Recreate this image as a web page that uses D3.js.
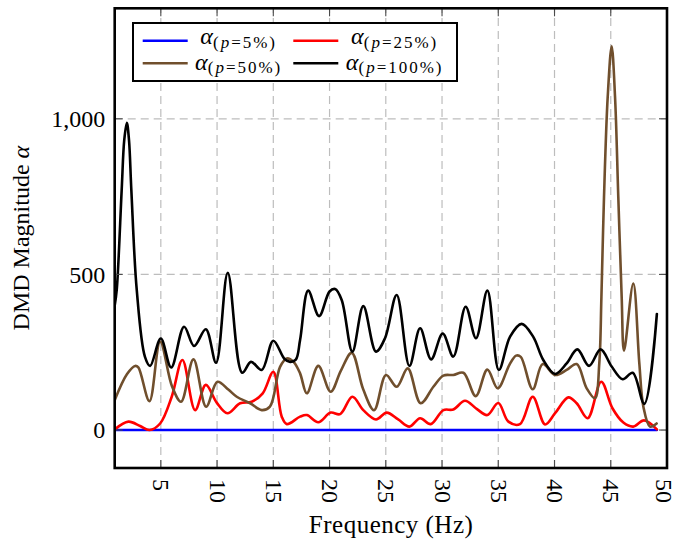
<!DOCTYPE html>
<html>
<head>
<meta charset="utf-8">
<script src="https://cdn.jsdelivr.net/npm/d3@7"></script>
<style>
  body { margin: 0; background: #fff; }
  svg { display: block; }
</style>
</head>
<body>
<svg id="chart" width="677" height="541"></svg>
<script>
// Axis ticks
const xTicks = [5, 10, 15, 20, 25, 30, 35, 40, 45, 50];
const yTicks = [0, 500, 1000];

// Legend entries (sampling percentage p)
const seriesLabels = ["5%", "25%", "50%", "100%"];

// DMD magnitude spectra: frequency (Hz) and magnitude per sampling level
const freq5 = [0.9, 5, 10, 15, 20, 25, 30, 35, 40, 45, 49.1];
const mag5  = [0, 0, 0, 0, 0, 0, 0, 0, 0, 0, 0];

const freq25 = [0.9, 2.12, 3.16, 3.99, 4.94, 5.97, 6.92, 8.05, 9.0, 9.97,
  10.92, 12.05, 13.08, 14.06, 15.0, 15.75, 16.2, 17.38, 17.98, 19.0,
  20.1, 20.94, 22.03, 23.0, 24.13, 25.08, 26.1, 27.1, 28.05, 29.0,
  30.12, 31.0, 32.04, 33.08, 34.03, 35.0, 35.9, 36.93, 38.06, 39.16,
  40.05, 41.23, 41.97, 42.95, 44.15, 45.15, 46.12, 47.0, 47.96, 49.1];
const mag25 = [2, 27, 13, 0, 21, 107, 225, 64, 145, 88,
  54, 86, 91, 118, 187, 43, 19, 43, 48, 25,
  56, 51, 107, 64, 34, 56, 34, 11, 38, 19,
  64, 66, 94, 68, 48, 87, 27, 19, 107, 18,
  54, 105, 86, 38, 155, 70, 24, 11, 31, 2];

const freq50 = [0.9, 2.0, 2.72, 3.0, 3.99, 4.94, 6.0, 6.8, 7.9, 9.03,
  10.03, 11.0, 11.75, 12.94, 13.97, 14.7, 15.6, 16.2, 16.8, 17.38,
  17.98, 19.0, 20.1, 21.0, 21.97, 23.0, 23.96, 25.02, 25.97, 26.95,
  28.1, 29.23, 30.12, 31.0, 31.9, 33.0, 34.03, 34.95, 36.0, 36.58,
  37.0, 38.06, 38.95, 40.05, 41.08, 41.97, 42.86, 43.6, 43.98, 44.17,
  44.4, 44.73, 45.08, 45.38, 45.67, 45.97, 46.18, 47.0, 47.54, 47.9,
  48.49, 49.08];
const mag50 = [96, 180, 206, 201, 93, 284, 140, 91, 227, 75,
  155, 130, 107, 86, 64, 75, 203, 230, 219, 182,
  118, 206, 123, 190, 248, 130, 64, 177, 139, 198,
  86, 139, 175, 177, 184, 109, 194, 134, 210, 239,
  235, 131, 212, 177, 193, 212, 134, 102, 214, 428,
  749, 1071, 1233, 1071, 749, 428, 255, 471, 214, 75,
  11, 21];

const freq100 = [0.9, 1.08, 1.52, 1.75, 1.98, 2.17, 2.38, 2.86, 3.59, 4.05,
  5.0, 5.92, 7.07, 7.96, 9.0, 9.91, 10.95, 12.23, 13.02, 13.97,
  15.0, 16.0, 16.49, 17.0, 17.38, 18.1, 19.07, 20.0, 20.49, 21.08,
  22.03, 23.0, 24.13, 24.93, 25.97, 27.1, 28.05, 29.03, 30.06, 31.0,
  32.1, 33.02, 34.03, 35.05, 36.05, 37.08, 38.1, 39.0, 40.05, 41.08,
  42.03, 43.07, 44.1, 45.08, 46.06, 46.95, 47.98, 49.1];
const mag100 = [400, 450, 771, 932, 987, 932, 771, 450, 235, 206,
  294, 201, 332, 270, 324, 216, 505, 184, 219, 193,
  287, 228, 219, 226, 289, 448, 366, 445, 453, 418,
  252, 398, 252, 295, 434, 206, 327, 227, 310, 236,
  396, 295, 448, 193, 300, 341, 300, 225, 180, 214,
  259, 206, 259, 204, 163, 184, 84, 373];

const seriesColors = ["#0000ff", "#ff0000", "#704f2d", "#000000"];

const series = [
  { freq: freq5,   mag: mag5 },
  { freq: freq25,  mag: mag25 },
  { freq: freq50,  mag: mag50 },
  { freq: freq100, mag: mag100 }
].map((s, i) => ({
  label: seriesLabels[i],
  color: seriesColors[i],
  points: s.freq.map((f, j) => [f, s.mag[j]])
}));

const FONT = "'Liberation Serif', 'DejaVu Serif', serif";

const svg = d3.select("#chart");
const frame = { left: 114.7, right: 667, top: 8.3, bottom: 468 };

const x = d3.scaleLinear().domain([0.9, 50]).range([frame.left, frame.right]);
const y = d3.scaleLinear().domain([-122, 1355]).range([frame.bottom, frame.top]);

svg.append("defs").append("clipPath").attr("id", "plot-clip")
  .append("rect")
  .attr("x", frame.left).attr("y", frame.top)
  .attr("width", frame.right - frame.left)
  .attr("height", frame.bottom - frame.top);

// Dashed grid
const grid = svg.append("g")
  .attr("stroke", "#bdbdbd").attr("stroke-width", 1.2)
  .attr("stroke-dasharray", "8,5").attr("fill", "none");
grid.selectAll("line.gx").data(xTicks).join("line").attr("class", "gx")
  .attr("x1", d => x(d)).attr("x2", d => x(d))
  .attr("y1", frame.bottom).attr("y2", frame.top);
grid.selectAll("line.gy").data(yTicks).join("line").attr("class", "gy")
  .attr("x1", frame.left).attr("x2", frame.right)
  .attr("y1", d => y(d)).attr("y2", d => y(d));

// Spectra
const line = d3.line()
  .x(d => x(d[0])).y(d => y(d[1]))
  .curve(d3.curveCatmullRom.alpha(0.5));

svg.append("g").attr("clip-path", "url(#plot-clip)")
  .selectAll("path").data(series).join("path")
  .attr("d", d => line(d.points))
  .attr("fill", "none")
  .attr("stroke", d => d.color)
  .attr("stroke-width", 2.6)
  .attr("stroke-linejoin", "round")
  .attr("stroke-linecap", "round");

// Inner tick marks on all four sides
const tickLen = 8;
const ticks = svg.append("g").attr("stroke", "#4a4a4a").attr("stroke-width", 1.1);
xTicks.forEach(t => {
  ticks.append("line").attr("x1", x(t)).attr("x2", x(t))
    .attr("y1", frame.bottom).attr("y2", frame.bottom - tickLen);
  ticks.append("line").attr("x1", x(t)).attr("x2", x(t))
    .attr("y1", frame.top).attr("y2", frame.top + tickLen);
});
yTicks.forEach(t => {
  ticks.append("line").attr("x1", frame.left).attr("x2", frame.left + tickLen)
    .attr("y1", y(t)).attr("y2", y(t));
  ticks.append("line").attr("x1", frame.right).attr("x2", frame.right - tickLen)
    .attr("y1", y(t)).attr("y2", y(t));
});

// Frame
svg.append("rect")
  .attr("x", frame.left).attr("y", frame.top)
  .attr("width", frame.right - frame.left)
  .attr("height", frame.bottom - frame.top)
  .attr("fill", "none").attr("stroke", "#000").attr("stroke-width", 2.6);

// Y axis labels
const yAxis = d3.axisLeft(y).tickValues(yTicks).tickFormat(d3.format(","))
  .tickSize(0).tickPadding(9.5);
const gy = svg.append("g").attr("transform", `translate(${frame.left},0)`).call(yAxis);
gy.select(".domain").remove();
gy.selectAll("text")
  .attr("font-family", FONT).attr("font-size", 24).attr("fill", "#000")
  .attr("dy", "0.33em");

// X axis labels, rotated; the last one is nudged to stay inside the canvas
const xAxis = d3.axisBottom(x).tickValues(xTicks).tickSize(0);
const gx = svg.append("g").attr("transform", `translate(0,${frame.bottom})`).call(xAxis);
gx.select(".domain").remove();
gx.selectAll("text")
  .attr("font-family", FONT).attr("font-size", 24).attr("fill", "#000")
  .attr("transform", "rotate(90)")
  .attr("x", 11).attr("y", 0)
  .attr("dy", (d, i, n) => i === n.length - 1 ? "0.48em" : "0.33em")
  .style("text-anchor", "start");

// Axis titles
svg.append("text")
  .attr("x", (frame.left + frame.right) / 2).attr("y", 533)
  .attr("text-anchor", "middle")
  .attr("font-family", FONT).attr("font-size", 25)
  .attr("textLength", 164).attr("lengthAdjust", "spacing")
  .text("Frequency (Hz)");

const yTitle = svg.append("text")
  .attr("transform", `translate(28.5,${(frame.top + frame.bottom) / 2}) rotate(-90)`)
  .attr("text-anchor", "middle")
  .attr("font-family", FONT).attr("font-size", 24);
yTitle.append("tspan").text("DMD Magnitude ");
yTitle.append("tspan").attr("font-style", "italic").text("α");

// Legend
const legend = svg.append("g");
legend.append("rect")
  .attr("x", 133).attr("y", 23).attr("width", 324).attr("height", 58)
  .attr("fill", "#fff").attr("stroke", "#000").attr("stroke-width", 2);

const legendCols = [
  { lx: 142.7, tx: 238.7 },
  { lx: 293.3, tx: 394.7 }
];
const legendRows = [
  { ly: 40.7, base: 44 },
  { ly: 63.3, base: 69.5 }
];

series.forEach((s, i) => {
  const col = legendCols[i % 2];
  const row = legendRows[Math.floor(i / 2)];
  legend.append("line")
    .attr("x1", col.lx).attr("x2", col.lx + 45)
    .attr("y1", row.ly).attr("y2", row.ly)
    .attr("stroke", s.color).attr("stroke-width", 2.6);
  const t = legend.append("text")
    .attr("x", col.tx).attr("y", row.base)
    .attr("text-anchor", "middle")
    .attr("font-family", FONT).attr("font-size", 24);
  t.append("tspan").attr("font-style", "italic").text("α");
  const sub = t.append("tspan").attr("font-size", 17).attr("dy", 3.5)
    .attr("letter-spacing", 2);
  sub.append("tspan").text("(");
  sub.append("tspan").attr("font-style", "italic").text("p");
  sub.append("tspan").text("=" + s.label + ")");
});
</script>
</body>
</html>
